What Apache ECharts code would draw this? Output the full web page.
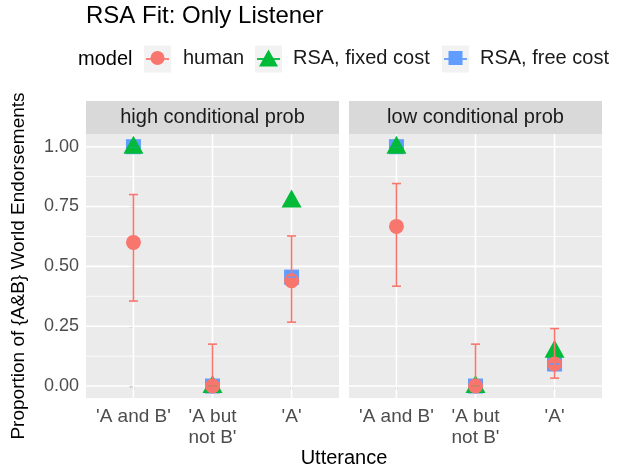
<!DOCTYPE html>
<html><head><meta charset="utf-8">
<script src="https://cdn.jsdelivr.net/npm/echarts@6/dist/echarts.min.js"></script>
<style>html,body{margin:0;padding:0;background:#fff}#c{width:623px;height:469px}</style>
</head><body><div id="c"></div>
<script>
// ---- data ----
const categories = ["'A and B'", "'A but\nnot B'", "'A'"];
const panels = ['high conditional prob', 'low conditional prob'];
const modelNames = ['human', 'RSA, fixed cost', 'RSA, free cost'];
const xTicks = [0, 1, 2];
const yTicks = [0, 0.25, 0.5, 0.75, 1];
const yMinor = [0.125, 0.375, 0.625, 0.875];
const yTickLabels = ['0.00', '0.25', '0.50', '0.75', '1.00'];

const humanHigh   = [0.600, 0.000, 0.440];
const humanHighLo = [0.355, 0.000, 0.267];
const humanHighHi = [0.800, 0.175, 0.627];
const fixedHigh   = [1.000, 0.000, 0.775];
const freeHigh    = [1.000, 0.000, 0.455];

const humanLow    = [0.667, 0.000, 0.092];
const humanLowLo  = [0.417, 0.000, 0.033];
const humanLowHi  = [0.846, 0.175, 0.240];
const fixedLow    = [1.000, 0.000, 0.147];
const freeLow     = [1.000, 0.000, 0.092];

// ---- styling ----
const FONT = 'Liberation Sans, Arial, Helvetica, sans-serif';
const COL = { human: '#F8766D', fixed: '#00BA38', free: '#619CFF' };
const PANEL_W = 253, PANEL_TOP = 134, PANEL_H = 264;
const PANEL_LEFT = [86, 349];

const chart = echarts.init(document.getElementById('c'), null, { renderer: 'canvas' });

const panelData = [
  { human: humanHigh, lo: humanHighLo, hi: humanHighHi, fixed: fixedHigh, free: freeHigh },
  { human: humanLow, lo: humanLowLo, hi: humanLowHi, fixed: fixedLow, free: freeLow }
];

function pts(arr) { return arr.map((v, i) => [i, v]); }
function bars(lo, hi) { return lo.map((v, i) => [i, v, hi[i]]); }

function errRender(color) {
  return function (params, api) {
    const x = api.value(0), lo = api.value(1), hi = api.value(2);
    const p1 = api.coord([x, hi]);
    const p2 = api.coord([x, lo]);
    const hw = 4.5;
    const st = { stroke: color, lineWidth: 1.6 };
    const children = [
      { type: 'line', shape: { x1: p1[0] - hw, y1: p1[1], x2: p1[0] + hw, y2: p1[1] }, style: st }
    ];
    if (hi !== lo) {
      children.push({ type: 'line', shape: { x1: p1[0], y1: p1[1], x2: p2[0], y2: p2[1] }, style: st });
      children.push({ type: 'line', shape: { x1: p2[0] - hw, y1: p2[1], x2: p2[0] + hw, y2: p2[1] }, style: st });
    }
    return { type: 'group', children: children };
  };
}

// panel grid lines, all drawn in one item through the axes' scales
function gridRender(params, api) {
  const cs = params.coordSys;
  const children = [];
  yMinor.forEach(v => {
    const y = api.coord([0, v])[1];
    children.push({ type: 'line', shape: { x1: cs.x, y1: y, x2: cs.x + cs.width, y2: y }, style: { stroke: '#FFFFFF', lineWidth: 0.8 } });
  });
  yTicks.forEach(v => {
    const y = api.coord([0, v])[1];
    children.push({ type: 'line', shape: { x1: cs.x, y1: y, x2: cs.x + cs.width, y2: y }, style: { stroke: '#FFFFFF', lineWidth: 1.6 } });
  });
  xTicks.forEach(v => {
    const x = api.coord([v, 0])[0];
    children.push({ type: 'line', shape: { x1: x, y1: cs.y, x2: x, y2: cs.y + cs.height }, style: { stroke: '#FFFFFF', lineWidth: 1.6 } });
  });
  return { type: 'group', silent: true, children: children };
}

const grids = [], xAxes = [], yAxes = [], series = [];
panels.forEach((p, k) => {
  grids.push({ left: PANEL_LEFT[k], top: PANEL_TOP, width: PANEL_W, height: PANEL_H,
    show: true, backgroundColor: '#EBEBEB', borderWidth: 0 });
  xAxes.push({
    type: 'value', gridIndex: k, min: -0.6, max: 2.6,
    axisLine: { show: false }, splitLine: { show: false },
    axisTick: { show: true, customValues: xTicks, length: 4, lineStyle: { color: '#333333', width: 1.2 } },
    axisLabel: { show: true, customValues: xTicks, margin: 8, color: '#4D4D4D', fontSize: 19,
      fontFamily: FONT, lineHeight: 21, align: 'center', verticalAlign: 'top',
      formatter: (v) => categories[Math.round(v)] }
  });
  yAxes.push({
    type: 'value', gridIndex: k, min: -0.05, max: 1.053,
    axisLine: { show: false }, splitLine: { show: false },
    axisTick: { show: k === 0, customValues: yTicks, length: 4, lineStyle: { color: '#333333', width: 1.2 } },
    axisLabel: { show: k === 0, customValues: yTicks, margin: 7, color: '#4D4D4D', fontSize: 18,
      fontFamily: FONT, formatter: (v) => yTickLabels[yTicks.findIndex(t => Math.abs(t - v) < 1e-6)] },
    name: k === 0 ? 'Proportion of {A&B} World Endorsements' : '',
    nameLocation: 'middle', nameRotate: 90, nameGap: 58,
    nameTextStyle: { fontSize: 19, color: '#000000', fontFamily: FONT }
  });
  series.push({
    name: 'gridlines', type: 'custom', xAxisIndex: k, yAxisIndex: k, z: 1, silent: true,
    renderItem: gridRender, data: [[1, 0.5]], tooltip: { show: false }
  });
  const d = panelData[k];
  series.push({ name: 'RSA, free cost', type: 'scatter', xAxisIndex: k, yAxisIndex: k, z: 2,
    symbol: 'rect', symbolSize: 15, itemStyle: { color: COL.free, opacity: 1 }, data: pts(d.free) });
  series.push({ name: 'RSA, fixed cost', type: 'scatter', xAxisIndex: k, yAxisIndex: k, z: 2,
    symbol: 'triangle', symbolSize: [20, 18], symbolOffset: [0, -2], itemStyle: { color: COL.fixed, opacity: 1 }, data: pts(d.fixed) });
  series.push({ name: 'human', type: 'scatter', xAxisIndex: k, yAxisIndex: k, z: 2,
    symbol: 'circle', symbolSize: 15, itemStyle: { color: COL.human, opacity: 1 }, data: pts(d.human) });
  series.push({ name: 'eb_free', type: 'custom', xAxisIndex: k, yAxisIndex: k, z: 3,
    renderItem: errRender(COL.free), encode: { x: 0, y: [1, 2] }, data: bars(d.free, d.free) });
  series.push({ name: 'eb_fixed', type: 'custom', xAxisIndex: k, yAxisIndex: k, z: 3,
    renderItem: errRender(COL.fixed), encode: { x: 0, y: [1, 2] }, data: bars(d.fixed, d.fixed) });
  series.push({ name: 'eb_human', type: 'custom', xAxisIndex: k, yAxisIndex: k, z: 3,
    renderItem: errRender(COL.human), encode: { x: 0, y: [1, 2] }, data: bars(d.lo, d.hi) });
});

// legend keys
const keyBoxes = [144, 255, 442];
const keyTextX = [183, 293, 480];
const keyCols = [COL.human, COL.fixed, COL.free];
const keyIcons = ['circle', 'triangle', 'rect'];
const keyW = [14, 19, 14];
const keyH = [14, 17, 14];
const LEG_CY = 59;

const legends = modelNames.map((n, i) => {
  const left = keyBoxes[i] + 13.5 - keyW[i] / 2;
  const pad = keyTextX[i] - (left + keyW[i] + 5);
  return {
    data: [{ name: n, icon: keyIcons[i] }],
    left: left, top: LEG_CY - 11, padding: 0, z: 6,
    itemWidth: keyW[i], itemHeight: keyH[i], selectedMode: false,
    formatter: (name) => '{t|' + name + '}',
    textStyle: { fontSize: 20, color: '#1A1A1A', fontFamily: FONT,
      rich: { t: { fontSize: 20, color: '#1A1A1A', fontFamily: FONT, padding: [0, 0, 0, pad] } } }
  };
});

const graphics = [];
modelNames.forEach((n, i) => {
  graphics.push({ type: 'rect', z: 0, silent: true, shape: { x: keyBoxes[i], y: LEG_CY - 13.5, width: 27, height: 27 }, style: { fill: '#F2F2F2' } });
  graphics.push({ type: 'line', z: 1, silent: true, shape: { x1: keyBoxes[i] + 2, y1: LEG_CY, x2: keyBoxes[i] + 25, y2: LEG_CY }, style: { stroke: keyCols[i], lineWidth: 1.8 } });
});
graphics.push({ type: 'text', silent: true, style: { x: 78, y: LEG_CY, text: 'model', fontSize: 20, fontFamily: FONT, fill: '#000000', verticalAlign: 'middle', align: 'left' } });
panels.forEach((p, k) => {
  graphics.push({ type: 'rect', silent: true, shape: { x: PANEL_LEFT[k], y: 101, width: PANEL_W, height: 33 }, style: { fill: '#D9D9D9' } });
  graphics.push({ type: 'text', silent: true, style: { x: PANEL_LEFT[k] + PANEL_W / 2, y: 117.5, text: p, fontSize: 20, fontFamily: FONT, fill: '#1A1A1A', align: 'center', verticalAlign: 'middle' } });
});
graphics.push({ type: 'text', silent: true, style: { x: 344, y: 458, text: 'Utterance', fontSize: 20, fontFamily: FONT, fill: '#000000', align: 'center', verticalAlign: 'middle' } });

chart.setOption({
  animation: false,
  backgroundColor: '#FFFFFF',
  tooltip: { show: false },
  title: { text: 'RSA Fit: Only Listener', left: 86, top: 4, padding: 0,
    textStyle: { fontSize: 24, fontWeight: 'normal', color: '#000000', fontFamily: FONT } },
  legend: legends,
  grid: grids, xAxis: xAxes, yAxis: yAxes, series: series,
  graphic: graphics
});
</script></body></html>
